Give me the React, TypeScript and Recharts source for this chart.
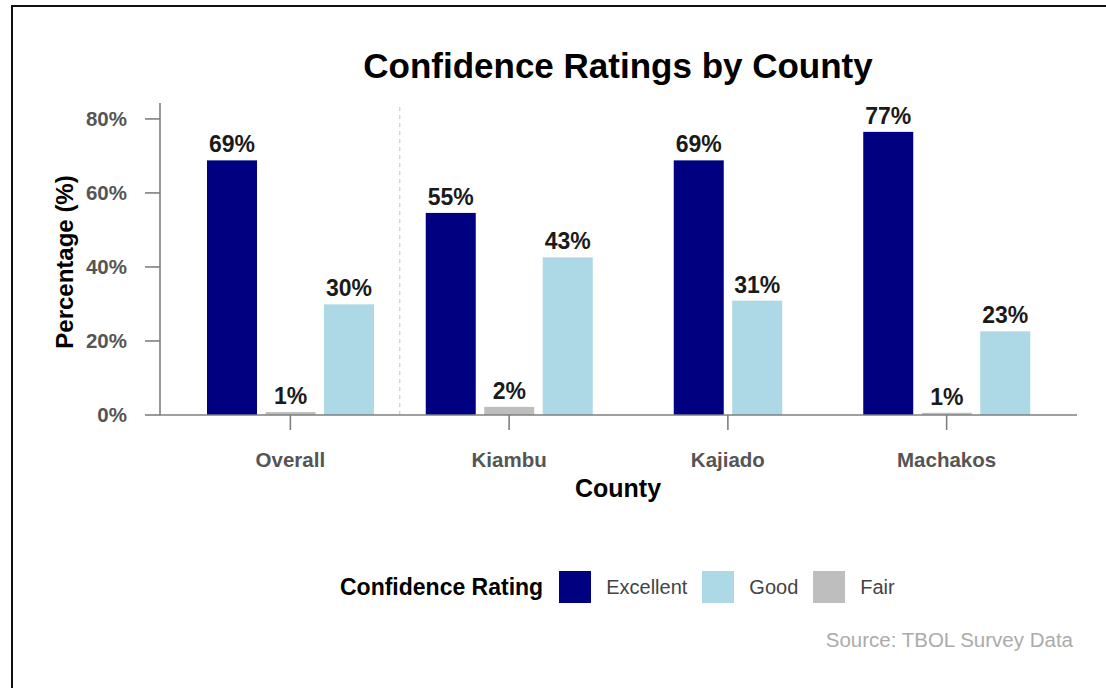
import React from "react";
import { BarChart, Bar, XAxis, YAxis, ReferenceLine } from "recharts";

const COUNTIES = ["Overall", "Kiambu", "Kajiado", "Machakos"];
const EXCELLENT = [68.8, 54.6, 68.8, 76.5];
const FAIR: (number | null)[] = [0.8, 2.2, null, 0.6];
const GOOD = [29.9, 42.6, 30.9, 22.6];
const Y_TICKS = [0, 20, 40, 60, 80];
const LEGEND_ORDER = ["Excellent", "Good", "Fair"];

const COLORS: Record<string, string> = {
  Excellent: "#000080",
  Good: "#ADD8E6",
  Fair: "#BEBEBE",
};

const FONT = '"Liberation Sans", Arial, Helvetica, sans-serif';
const AXIS = "#7f7f7f";
const BAR_SIZE = 50;
const BAR_GAP = 8.5;

const data = COUNTIES.map((county, i) => ({
  county,
  Excellent: EXCELLENT[i],
  Fair: FAIR[i],
  Good: GOOD[i],
}));

// ggplot drops the missing Fair bar and pulls the other two together
function dodge(key: string, index: number) {
  if (data[index] == null || data[index].Fair != null) return 0;
  const half = (BAR_SIZE + BAR_GAP) / 2;
  if (key === "Excellent") return half;
  if (key === "Good") return -half;
  return 0;
}

function barShape(key: string) {
  return (props: any) => {
    const { x, y, width, height, index, payload } = props;
    const v = payload ? payload[key] : null;
    if (v == null) return <g />;
    const dx = dodge(key, index);
    return (
      <g>
        <rect x={x + dx} y={y} width={width} height={Math.max(height, 0)} fill={COLORS[key]} />
        <text
          x={x + dx + width / 2}
          y={y - 8}
          textAnchor="middle"
          fontFamily={FONT}
          fontWeight="bold"
          fontSize={23}
          fill="#1a1a1a"
        >
          {Math.round(v)}%
        </text>
      </g>
    );
  };
}

const tickStyle = { fill: "#555", fontSize: 20.5, fontWeight: "bold", fontFamily: FONT };

export default function App() {
  return (
    <div style={{ position: "absolute", left: 0, top: 0, width: 1106, height: 688, background: "#fff", overflow: "hidden" }}>
      {/* frame from the surrounding document */}
      <div style={{ position: "absolute", left: 11, top: 5, width: 1100, height: 690, borderTop: "2px solid #111", borderLeft: "2px solid #111" }} />

      <BarChart
        width={1106}
        height={688}
        data={data}
        margin={{ top: 103, right: 29, bottom: 213, left: 0 }}
        barSize={BAR_SIZE}
        barGap={BAR_GAP}
        style={{ position: "absolute", left: 0, top: 0 }}
      >
        <XAxis
          dataKey="county"
          height={60}
          interval={0}
          padding={{ left: 21, right: 21 }}
          tickSize={15}
          tickMargin={22}
          axisLine={{ stroke: AXIS, strokeWidth: 1.6 }}
          tickLine={{ stroke: AXIS, strokeWidth: 1.6 }}
          tick={tickStyle}
        />
        <YAxis
          width={160}
          domain={[0, 84.3]}
          allowDataOverflow
          ticks={Y_TICKS}
          tickFormatter={(v) => `${v}%`}
          tickSize={15}
          tickMargin={18}
          axisLine={{ stroke: AXIS, strokeWidth: 1.6 }}
          tickLine={{ stroke: AXIS, strokeWidth: 1.6 }}
          tick={tickStyle}
        />
        <ReferenceLine x="Overall" position="end" stroke="#dcc3cc" strokeWidth={1.2} strokeDasharray="4 4" />
        <Bar dataKey="Excellent" fill={COLORS.Excellent} shape={barShape("Excellent")} isAnimationActive={false} />
        <Bar dataKey="Fair" fill={COLORS.Fair} shape={barShape("Fair")} isAnimationActive={false} />
        <Bar dataKey="Good" fill={COLORS.Good} shape={barShape("Good")} isAnimationActive={false} />
      </BarChart>

      <svg width={1106} height={688} style={{ position: "absolute", left: 0, top: 0, pointerEvents: "none" }}>
        <text x={618} y={78} textAnchor="middle" fontFamily={FONT} fontWeight="bold" fontSize={35} fill="#000">
          Confidence Ratings by County
        </text>
        <text transform="translate(73,262) rotate(-90)" textAnchor="middle" fontFamily={FONT} fontWeight="bold" fontSize={24} fill="#000">
          Percentage (%)
        </text>
        <text x={618} y={497} textAnchor="middle" fontFamily={FONT} fontWeight="bold" fontSize={25} fill="#000">
          County
        </text>
        <text x={1073} y={647} textAnchor="end" fontFamily={FONT} fontSize={20.5} fill="#ababab">
          Source: TBOL Survey Data
        </text>
      </svg>

      <div style={{ position: "absolute", left: 340, top: 571, height: 32, display: "flex", alignItems: "center", fontFamily: FONT, whiteSpace: "nowrap" }}>
        <span style={{ fontWeight: "bold", fontSize: 23, color: "#000", marginRight: 16 }}>Confidence Rating</span>
        {LEGEND_ORDER.map((k) => (
          <React.Fragment key={k}>
            <span style={{ display: "inline-block", width: 32, height: 32, background: COLORS[k], marginRight: 15 }} />
            <span style={{ fontSize: 20, color: "#444", marginRight: 15 }}>{k}</span>
          </React.Fragment>
        ))}
      </div>
    </div>
  );
}
